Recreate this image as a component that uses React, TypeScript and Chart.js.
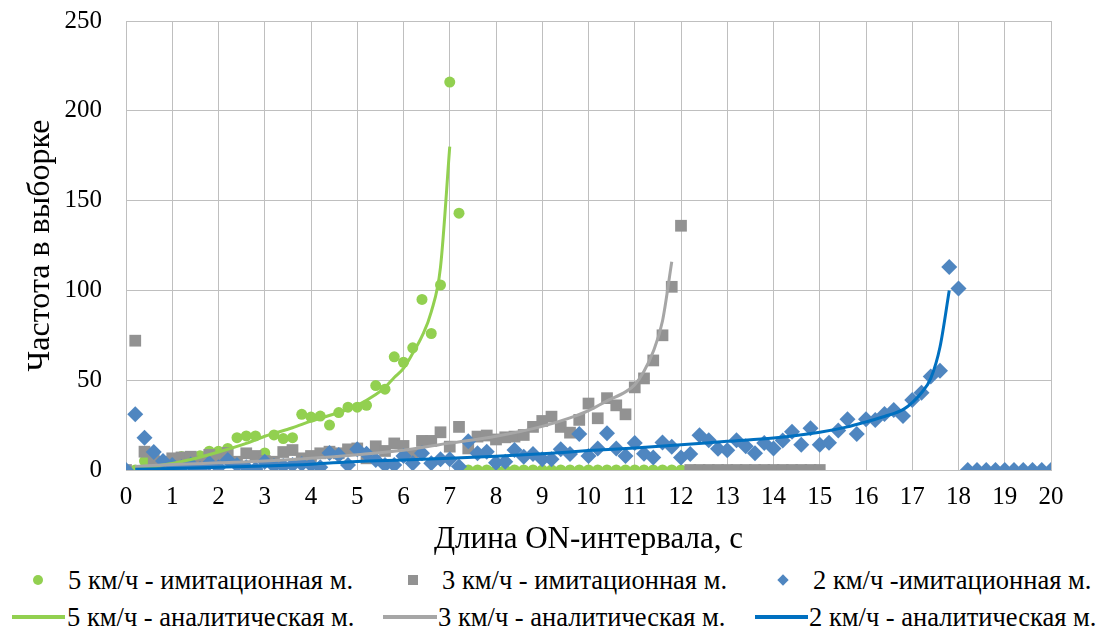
import React, { useEffect, useRef } from 'react';
import { Chart, registerables } from 'chart.js';

Chart.register(...registerables);

// ---------- data ----------
const X_STEP = 0.2;

const xTickLabels = ['0', '1', '2', '3', '4', '5', '6', '7', '8', '9', '10', '11', '12', '13', '14', '15', '16', '17', '18', '19', '20'];
const yTickLabels = ['0', '50', '100', '150', '200', '250'];

// simulation model, 5 km/h (x from 0.2 step 0.2)
const sim5Start = 0.2;
const sim5Values = [
  0, 5, 3, 3, 2, 7.5, 6, 8, 10.5, 10.5,
  12, 18, 19, 19, 9.5, 19.5, 17.5, 18, 31, 29.5,
  30, 25, 32, 35, 35, 36, 47, 45, 63, 60,
  68, 95, 76, 103, 216, 143,
  0, 0, 0, 0, 0, 0, 0, 0, 0, 0, 0, 0,
  0, 0, 0, 0, 0, 0, 0, 0, 0, 0, 0, 0,
];

// simulation model, 3 km/h (x from 0 step 0.2)
const sim3Start = 0;
const sim3Values = [
  0, 72, 10.2, 5.6, 4.5, 6.5, 7, 7.4, 4.6, 8.4,
  7, 9.5, 4.6, 9.3, 7.8, 5, 4.6, 10, 11.1, 6.5,
  7.8, 9.3, 10.2, 9.3, 11.5, 12, 6.5, 13.2, 10.6, 14.8,
  13.4, 8.4, 16.2, 16.2, 21, 13, 24, 12, 18.6, 19.2,
  17, 18.2, 18.6, 19.5, 24, 27.3, 29.7, 24, 20.8, 27.9,
  37, 28.8, 40, 36, 31, 46, 51, 61, 75, 102,
  136,
  0, 0, 0, 0, 0, 0, 0, 0, 0, 0, 0, 0, 0, 0, 0,
];

// simulation model, 2 km/h (x from 0 step 0.2)
const sim2Start = 0;
const sim2Values = [
  0, 31, 18, 10, 5, 2.8, 1.5, 3, 0.5, 3.7,
  1.5, 5.6, 2.8, 1.5, 0.5, 4.6, 2.2, 2.2, 2.8, 3.3,
  2.8, 1.5, 9.5, 8.4, 2.8, 11.5, 9, 5.6, 2.8, 2.8,
  7.8, 3.7, 9.3, 3.8, 6, 6, 2, 16, 9.3, 10.2,
  4, 4.6, 11.1, 7.4, 8.9, 6, 6, 11.5, 8.9, 20,
  7.8, 12, 20.5, 12, 7.8, 15, 9, 7, 15.3, 13,
  7, 8.9, 19.3, 16.5, 11.8, 11, 16.5, 13.2, 9.3, 15,
  12, 16.4, 21.3, 14, 23.2, 14, 15.2, 22, 28.2, 20,
  28.2, 27.9, 31.2, 33.4, 30, 39, 43, 52, 55.3, 113,
  101, 0, 0, 0, 0, 0, 0, 0, 0, 0, 0,
];

// analytical model curves
const an5X = [0.2, 0.6, 1.0, 1.4, 2.0, 2.6, 3.0, 3.6, 4.0, 4.6, 5.0, 5.4, 5.6, 5.8, 6.0, 6.2, 6.4, 6.6, 6.8, 7.0];
const an5Y = [1, 2.2, 3.7, 5.8, 10, 14.8, 18.8, 23.5, 27.2, 32, 36, 42, 46, 51.5, 56.6, 65, 74.5, 88, 113, 180];

const an3X = [0.2, 1, 2, 3, 4, 5, 6, 7, 8, 9, 9.6, 10, 10.4, 10.8, 11.0, 11.2, 11.4, 11.6, 11.8];
const an3Y = [2, 3, 4, 5, 6.5, 8.5, 11, 15, 18.8, 24.3, 29, 33, 38.5, 43.5, 47.5, 55, 66, 83, 116];

const an2X = [0.2, 1, 2, 3, 4, 5, 6, 7, 8, 9, 10, 11, 12, 13, 14, 15, 15.6, 16, 16.4, 16.8, 17.0, 17.2, 17.4, 17.6, 17.8];
const an2Y = [0.4, 0.9, 1.5, 2.2, 3.2, 4.8, 5.6, 6.5, 7.6, 9, 10.8, 12.3, 14, 16, 17.8, 21, 24, 26.8, 29.8, 33.6, 37.5, 43, 51, 68.5, 100];

const seriesLabels = [
  '5 км/ч - имитационная м.',
  '3 км/ч - имитационная м.',
  '2 км/ч -имитационная м.',
  '5 км/ч - аналитическая м.',
  '3 км/ч - аналитическая м.',
  '2 км/ч - аналитическая м.',
];

const GREEN = '#92D050';
const GREY_MARK = '#929292';
const GREY_LINE = '#A6A6A6';
const BLUE_MARK = '#4F86C0';
const BLUE_LINE = '#0070C0';
const GRID = '#BFBFBF';
const FONT = '"Liberation Serif", "Times New Roman", Times, Tinos, "DejaVu Serif", "Noto Serif", FreeSerif, "Nimbus Roman", serif';

const stepPoints = (start: number, values: number[]) =>
  values.map((v, i) => ({ x: +(start + i * X_STEP).toFixed(1), y: v }));
const pairPoints = (xs: number[], ys: number[]) => xs.map((x, i) => ({ x, y: ys[i] }));

export default function App() {
  const ref = useRef<HTMLCanvasElement | null>(null);

  useEffect(() => {
    if (!ref.current) return;
    const chart = new Chart(ref.current, {
      type: 'scatter',
      data: {
        datasets: [
          {
            label: seriesLabels[0],
            data: stepPoints(sim5Start, sim5Values),
            pointStyle: 'circle',
            pointRadius: 5.5,
            backgroundColor: GREEN,
            borderWidth: 0,
            order: 6,
          },
          {
            label: seriesLabels[1],
            data: stepPoints(sim3Start, sim3Values),
            pointStyle: 'rect',
            pointRadius: 8.3,
            backgroundColor: GREY_MARK,
            borderWidth: 0,
            order: 5,
          },
          {
            label: seriesLabels[2],
            data: stepPoints(sim2Start, sim2Values),
            pointStyle: 'rectRot',
            pointRadius: 8,
            backgroundColor: BLUE_MARK,
            borderWidth: 0,
            order: 4,
          },
          {
            label: seriesLabels[3],
            data: pairPoints(an5X, an5Y),
            showLine: true,
            pointRadius: 0,
            borderColor: GREEN,
            borderWidth: 3,
            cubicInterpolationMode: 'monotone',
            order: 3,
          },
          {
            label: seriesLabels[4],
            data: pairPoints(an3X, an3Y),
            showLine: true,
            pointRadius: 0,
            borderColor: GREY_LINE,
            borderWidth: 3,
            cubicInterpolationMode: 'monotone',
            order: 2,
          },
          {
            label: seriesLabels[5],
            data: pairPoints(an2X, an2Y),
            showLine: true,
            pointRadius: 0,
            borderColor: BLUE_LINE,
            borderWidth: 3,
            cubicInterpolationMode: 'monotone',
            order: 1,
          },
        ] as any,
      },
      options: {
        responsive: false,
        animation: false,
        events: [],
        layout: { padding: { left: 20, right: 52, top: 21, bottom: 2 } },
        plugins: {
          legend: { display: false },
          tooltip: { enabled: false },
        },
        scales: {
          x: {
            type: 'linear',
            min: 0,
            max: 20,
            afterFit: (s: any) => {
              s.height = 88;
              s.paddingLeft = 0;
              s.paddingRight = 0;
            },
            afterBuildTicks: (s: any) => {
              s.ticks = xTickLabels.map((l) => ({ value: Number(l) }));
            },
            ticks: {
              color: '#000',
              font: { family: FONT, size: 25 },
              padding: 12,
              maxRotation: 0,
              autoSkip: false,
              callback: (v: any) => String(v),
            },
            grid: { color: GRID, lineWidth: 1, drawTicks: false },
            border: { color: GRID, width: 1 },
            title: {
              display: true,
              text: 'Длина ON-интервала, с',
              color: '#000',
              font: { family: FONT, size: 31 },
              padding: { top: 0, bottom: 0 },
            },
          },
          y: {
            type: 'linear',
            min: 0,
            max: 250,
            afterFit: (s: any) => {
              s.width = 106;
              s.paddingTop = 0;
              s.paddingBottom = 0;
            },
            afterBuildTicks: (s: any) => {
              s.ticks = yTickLabels.map((l) => ({ value: Number(l) }));
            },
            ticks: {
              color: '#000',
              font: { family: FONT, size: 25 },
              padding: 24,
              autoSkip: false,
              callback: (v: any) => String(v),
            },
            grid: { color: GRID, lineWidth: 1, drawTicks: false },
            border: { color: GRID, width: 1 },
            title: {
              display: true,
              text: 'Частота в выборке',
              color: '#000',
              font: { family: FONT, size: 32 },
              padding: { top: 1, bottom: 0 },
            },
          },
        },
      } as any,
    });
    return () => chart.destroy();
  }, []);

  const textStyle: React.CSSProperties = {
    position: 'absolute',
    fontFamily: FONT,
    fontSize: 26.5,
    lineHeight: '30px',
    color: '#000',
    whiteSpace: 'nowrap',
  };

  const row1 = 565;
  const row2 = 602;

  return (
    <div style={{ position: 'fixed', left: 0, top: 0, width: 1103, height: 628, background: '#fff', overflow: 'hidden' }}>
      <canvas ref={ref} width={1103} height={560} style={{ display: 'block', width: 1103, height: 560 }} />
      {/* legend row 1: markers */}
      <div style={{ position: 'absolute', left: 33, top: row1 + 10, width: 10, height: 10, borderRadius: 5, background: GREEN }} />
      <div style={{ ...textStyle, left: 68, top: row1 }}>{seriesLabels[0]}</div>
      <div style={{ position: 'absolute', left: 408, top: row1 + 10, width: 10, height: 10, background: GREY_MARK }} />
      <div style={{ ...textStyle, left: 442, top: row1 }}>{seriesLabels[1]}</div>
      <div style={{ position: 'absolute', left: 779, top: row1 + 11, width: 8, height: 8, background: BLUE_MARK, transform: 'rotate(45deg)' }} />
      <div style={{ ...textStyle, left: 813, top: row1 }}>{seriesLabels[2]}</div>
      {/* legend row 2: lines */}
      <div style={{ position: 'absolute', left: 12, top: row2 + 13, width: 53, height: 4, background: GREEN }} />
      <div style={{ ...textStyle, left: 67, top: row2 }}>{seriesLabels[3]}</div>
      <div style={{ position: 'absolute', left: 383, top: row2 + 13, width: 54, height: 4, background: GREY_LINE }} />
      <div style={{ ...textStyle, left: 438, top: row2 }}>{seriesLabels[4]}</div>
      <div style={{ position: 'absolute', left: 755, top: row2 + 13, width: 53, height: 4, background: BLUE_LINE }} />
      <div style={{ ...textStyle, left: 809, top: row2 }}>{seriesLabels[5]}</div>
    </div>
  );
}
